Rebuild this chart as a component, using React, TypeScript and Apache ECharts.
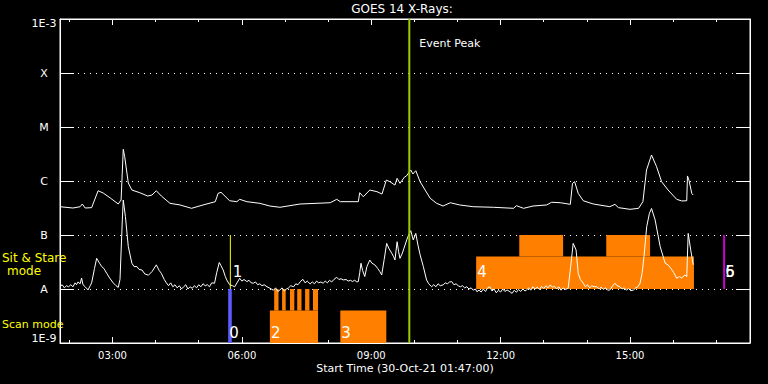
import React, { useEffect, useRef } from "react";
import * as echarts from "echarts";

// ---- time axis (minutes after 00:00 UT, 30-Oct-21) ----
const START_MIN = 107; // 01:47
const END_MIN = 1067; // 17:47
const hourTicks = [120, 240, 300, 420, 480, 600, 660, 780, 840, 960, 1020];
const labeledHours = [180, 360, 540, 720, 900];

// ---- flux axis (W/m^2) ----
const FLUX_MIN = 1e-9;
const FLUX_MAX = 1e-3;
const yTickLabels = ["1E-9", "A", "B", "C", "M", "X", "1E-3"];

// ---- GOES 14 long channel (1-8 A): [minute, flux] ----
const longChannel: [number, number][] = [
  [107, 3.34e-7], [125, 3.16e-7], [135, 3.34e-7], [138, 3.75e-7], [142, 3.16e-7], [151, 3.21e-7],
  [160, 6.6e-7], [167, 6.0e-7], [177, 4.84e-7], [188, 3.75e-7], [192, 4.45e-7], [195, 3.86e-6],
  [197, 2.82e-6], [202, 9.2e-7], [207, 6.8e-7], [218, 6.07e-7], [229, 5.27e-7], [235, 5.5e-7],
  [241, 6.6e-7], [248, 5.27e-7], [260, 3.86e-7], [274, 3.6e-7], [290, 3.12e-7], [306, 3.6e-7],
  [323, 4.14e-7], [327, 5.9e-7], [331, 6.18e-7], [343, 4.31e-7], [353, 4.14e-7], [357, 4.58e-7],
  [367, 4.14e-7], [385, 3.86e-7], [399, 3.44e-7], [413, 3.26e-7], [441, 3.75e-7], [483, 3.96e-7],
  [492, 4.58e-7], [497, 4.14e-7], [522, 4.14e-7], [524, 6.07e-7], [529, 5.12e-7], [538, 6.8e-7],
  [548, 6.34e-7], [555, 5.74e-7], [561, 1.04e-6], [566, 9.7e-7], [573, 8.4e-7], [576, 1.12e-6],
  [580, 9.05e-7], [586, 1.17e-6], [589, 1.24e-6], [595, 1.6e-6], [598, 1.35e-6], [602, 1.55e-6],
  [608, 9.7e-7], [615, 6.8e-7], [622, 4.79e-7], [631, 3.86e-7], [640, 3.44e-7], [650, 3.96e-7],
  [663, 3.6e-7], [682, 3.34e-7], [710, 3.26e-7], [738, 3.12e-7], [742, 3.49e-7], [752, 3.12e-7],
  [765, 3.44e-7], [784, 3.6e-7], [791, 4.04e-7], [803, 3.96e-7], [817, 3.7e-7], [820, 9.05e-7],
  [823, 9.7e-7], [828, 5.9e-7], [835, 4.31e-7], [849, 3.75e-7], [872, 3.34e-7], [879, 3.7e-7],
  [884, 3.21e-7], [900, 2.99e-7], [912, 3.12e-7], [918, 4.14e-7], [923, 1.6e-6], [930, 3.03e-6],
  [937, 1.84e-6], [944, 9.7e-7], [953, 6.8e-7], [965, 4.58e-7], [972, 4.27e-7], [979, 4.31e-7],
  [980, 1.24e-6], [982, 1.04e-6], [986, 5.9e-7], [988, 5.5e-7],
];

// ---- GOES 14 short channel (0.5-4 A): [minute, flux] ----
const shortChannel: [number, number][] = [
  [107, 1.1e-8], [110, 1.2e-8], [113, 1.05e-8], [116, 1.15e-8], [119, 1.1e-8], [122, 1.2e-8],
  [125, 1.1e-8], [128, 1.3e-8], [130, 1.2e-8], [132, 1.35e-8], [135, 1.25e-8], [137, 1.6e-8],
  [139, 1.2e-8], [142, 1.1e-8], [146, 0.96e-8], [149, 1.15e-8], [151, 1.3e-8], [155, 2.4e-8],
  [158, 3.7e-8], [162, 3.0e-8], [165, 2.6e-8], [168, 2.4e-8], [172, 1.95e-8], [176, 1.6e-8],
  [181, 1.3e-8], [185, 1.15e-8], [188, 1.07e-8], [190.5, 1.5e-8], [193.7, 1.9e-7], [195, 4.45e-7],
  [198, 2.2e-7], [202, 6.1e-8], [207, 3.0e-8], [210, 2.6e-8], [214, 2.6e-8], [217, 2.3e-8],
  [221, 2.25e-8], [225, 1.9e-8], [230, 1.8e-8], [235, 2.1e-8], [241, 2.8e-8], [245, 2.2e-8],
  [248, 1.95e-8], [252, 1.5e-8], [255, 1.3e-8], [258, 1.15e-8], [261, 1.3e-8], [264, 1.1e-8],
  [267, 1.2e-8], [270, 1.05e-8], [273, 1.15e-8], [276, 1.0e-8], [279, 1.1e-8], [282, 1.2e-8],
  [285, 1.0e-8], [288, 1.1e-8], [291, 1.03e-8], [294, 1.15e-8], [297, 1.05e-8], [300, 1.2e-8],
  [303, 1.1e-8], [306, 1.25e-8], [309, 1.15e-8], [312, 1.2e-8], [315, 1.1e-8], [318, 1.3e-8],
  [322, 1.28e-8], [325, 2.0e-8], [328.6, 3.1e-8], [331, 2.7e-8], [334, 2.25e-8], [337, 1.7e-8],
  [339, 1.47e-8], [343, 1.2e-8], [347, 1.15e-8], [350, 1.1e-8], [354, 1.35e-8], [357, 1.58e-8],
  [360, 1.4e-8], [363, 1.5e-8], [367, 1.37e-8], [370, 1.45e-8], [373, 1.3e-8], [376, 1.28e-8],
  [379, 1.35e-8], [382, 1.2e-8], [385, 1.25e-8], [388, 1.15e-8], [391, 1.2e-8], [395, 1.1e-8],
  [398, 1.05e-8], [401, 1.0e-8], [404, 0.95e-8], [407, 1.05e-8], [410, 0.9e-8], [413, 0.96e-8],
  [416, 1.05e-8], [419, 0.92e-8], [422, 1.0e-8], [425, 1.05e-8], [428, 1.15e-8], [432, 1.1e-8],
  [435, 1.25e-8], [438, 1.2e-8], [442, 1.4e-8], [445, 1.51e-8], [448, 1.3e-8], [451, 1.4e-8],
  [455, 1.24e-8], [458, 1.35e-8], [461, 1.25e-8], [464, 1.4e-8], [467, 1.3e-8], [470, 1.35e-8],
  [473, 1.28e-8], [476, 1.4e-8], [479, 1.3e-8], [482, 1.45e-8], [485, 1.35e-8], [488, 1.5e-8],
  [492, 1.65e-8], [495, 1.5e-8], [498, 1.55e-8], [501, 1.47e-8], [505, 1.5e-8], [508, 1.4e-8],
  [511, 1.45e-8], [514, 1.38e-8], [517, 1.45e-8], [520, 1.35e-8], [522, 1.37e-8], [524, 2.0e-8],
  [525.8, 3.0e-8], [528, 2.2e-8], [531, 1.7e-8], [534, 2.6e-8], [538, 3.44e-8], [541, 3.0e-8],
  [545, 2.8e-8], [549, 2.4e-8], [552, 2.1e-8], [554.6, 1.82e-8], [558, 3.5e-8], [561.5, 7.0e-8],
  [565, 5.5e-8], [568.5, 4.6e-8], [571, 4.0e-8], [573, 3.44e-8], [576, 7.5e-8], [578, 5.0e-8],
  [580, 3.7e-8], [583, 4.5e-8], [585.6, 5.7e-8], [589.4, 8.1e-8], [592, 1.0e-7], [595, 1.2e-7],
  [598.5, 8.1e-8], [602, 1.07e-7], [605, 6.5e-8], [608, 4.3e-8], [612.5, 2.6e-8], [617, 1.47e-8],
  [620, 1.25e-8], [624, 1.1e-8], [627, 1.2e-8], [630, 1.1e-8], [633, 1.25e-8], [636, 1.15e-8],
  [640, 1.19e-8], [643, 1.3e-8], [646, 1.25e-8], [649, 1.35e-8], [652, 1.37e-8], [655, 1.2e-8],
  [658, 1.25e-8], [661, 1.15e-8], [664, 1.1e-8], [667, 1.15e-8], [670, 1.05e-8], [673, 1.1e-8],
  [676, 1.0e-8], [679, 1.05e-8], [682, 0.95e-8], [685, 1.0e-8], [687, 0.89e-8], [690, 0.95e-8],
  [693, 0.88e-8], [696, 1.0e-8], [699, 0.9e-8], [702, 1.05e-8], [705, 1.1e-8], [708, 0.92e-8],
  [711, 1.0e-8], [714, 0.85e-8], [717, 0.95e-8], [720, 0.88e-8], [723, 1.0e-8], [726, 0.9e-8],
  [729, 0.96e-8], [733, 0.89e-8], [736, 0.83e-8], [739, 0.95e-8], [742, 0.87e-8], [745, 0.98e-8],
  [748, 0.9e-8], [751, 1.0e-8], [754, 0.92e-8], [756, 0.96e-8], [759, 1.05e-8], [762, 0.95e-8],
  [765, 1.1e-8], [768, 1.0e-8], [771, 1.08e-8], [774, 0.98e-8], [777, 1.12e-8], [780, 1.02e-8],
  [783, 1.15e-8], [786, 1.05e-8], [789, 1.19e-8], [792, 1.08e-8], [795, 1.12e-8], [798, 1.0e-8],
  [801, 1.1e-8], [804, 0.95e-8], [807, 1.05e-8], [810, 0.98e-8], [814, 1.03e-8], [817.5, 2.6e-8],
  [821, 7.0e-8], [825, 5.3e-8], [828, 1.95e-8], [831, 1.5e-8], [835, 1.28e-8], [838, 1.1e-8],
  [841, 1.2e-8], [844, 1.05e-8], [847, 1.15e-8], [850, 1.1e-8], [854, 1.1e-8], [857, 1.0e-8],
  [860, 1.08e-8], [863, 0.98e-8], [866, 1.05e-8], [869, 0.95e-8], [872, 0.96e-8], [876, 1.15e-8],
  [879, 1.28e-8], [882, 1.15e-8], [886, 1.1e-8], [889, 1.0e-8], [892, 1.05e-8], [895, 0.95e-8],
  [898, 1.02e-8], [901, 0.93e-8], [905, 0.96e-8], [908, 1.05e-8], [911, 1.1e-8], [914, 1.28e-8],
  [917, 2.0e-8], [919.5, 4.0e-8], [923.3, 1.43e-7], [927, 2.5e-7], [930, 3.1e-7], [935, 1.9e-7],
  [942, 6.1e-8], [949, 3.0e-8], [953, 2.8e-8], [957, 2.4e-8], [961, 2.0e-8], [965, 1.58e-8],
  [969, 1.7e-8], [972, 1.6e-8], [976.5, 1.82e-8], [979, 1.69e-8], [981, 1.07e-7], [984.5, 5.3e-8],
  [988, 2.8e-8],
];

// ---- observing modes (minutes) ----
const scanBlockStart = [399, 497];
const scanBlockEnd = [466, 561];
const scanBurstStart = [405, 416, 427, 437, 448, 459];
const scanBurstEnd = [411, 421, 433, 443, 454, 466];
const sitBlockStart = [686];
const sitBlockEnd = [989];
const sitPeakStart = [746, 867];
const sitPeakEnd = [807, 928];
const mode0Start = 341;
const mode0End = 346;
const mode1Time = 344;
const mode56Time = 1031;
const eventPeakTime = 593;

const modeNames = ["0", "1", "2", "3", "4", "5", "6"];
const modeLabelTime = [341, 346, 399, 497, 686, 1031, 1031];
const modeRow = ["scan", "sit", "scan", "scan", "sit", "sit", "sit"];

const FONT = "DejaVu Sans";

const fmtTime = (m: number) => {
  const h = Math.floor(m / 60);
  const mm = Math.round(m - h * 60);
  return String(h).padStart(2, "0") + ":" + String(mm).padStart(2, "0");
};

export default function App() {
  const ref = useRef<HTMLDivElement>(null);

  useEffect(() => {
    if (!ref.current) return;
    const chart = echarts.init(ref.current, undefined, { renderer: "svg" });

    // mode rows on a hidden level axis: scan row 0..1, sit & stare row 1..2
    const orangeRects: number[][] = [];
    scanBlockStart.forEach((s, i) => orangeRects.push([s, scanBlockEnd[i], 0, 0.6]));
    scanBurstStart.forEach((s, i) => orangeRects.push([s, scanBurstEnd[i], 0.6, 1]));
    sitBlockStart.forEach((s, i) => orangeRects.push([s, sitBlockEnd[i], 1, 1.6]));
    sitPeakStart.forEach((s, i) => orangeRects.push([s, sitPeakEnd[i], 1.6, 2]));
    const blueRects = [[mode0Start, mode0End, 0, 1]];

    const rectRender = (color: string) => (params: any, api: any) => {
      const p0 = api.coord([api.value(0), api.value(3)]);
      const p1 = api.coord([api.value(1), api.value(2)]);
      return {
        type: "rect",
        shape: { x: p0[0], y: p0[1], width: p1[0] - p0[0], height: p1[1] - p0[1] },
        style: { fill: color },
      };
    };
    const vlineRender = (color: string, width: number) => (params: any, api: any) => {
      const a = api.coord([api.value(0), api.value(1)]);
      const b = api.coord([api.value(0), api.value(2)]);
      return {
        type: "line",
        shape: { x1: a[0], y1: a[1], x2: b[0], y2: b[1] },
        style: { stroke: color, lineWidth: width },
      };
    };

    const labelData = modeNames.map((n, i) => [modeLabelTime[i], modeRow[i] === "scan" ? 0.19 : 1.31, i]);

    const common = { min: START_MIN, max: END_MIN, type: "value" as const };
    const option: any = {
      animation: false,
      backgroundColor: "#000",
      textStyle: { fontFamily: FONT },
      grid: { left: 60, right: 18, top: 19, bottom: 41, show: true, borderColor: "#fff", borderWidth: 1 },
      xAxis: [
        {
          ...common,
          position: "bottom",
          axisLine: { show: true, lineStyle: { color: "#fff", width: 1 } },
          axisTick: { show: true, inside: true, length: 6, customValues: labeledHours, lineStyle: { color: "#fff" } },
          axisLabel: { show: true, customValues: labeledHours, formatter: (v: number) => fmtTime(v), color: "#fff", fontSize: 10, fontFamily: FONT, margin: 7 },
          splitLine: { show: false },
        },
        {
          ...common,
          position: "bottom",
          axisLine: { show: false },
          axisTick: { show: true, inside: true, length: 3, customValues: hourTicks, lineStyle: { color: "#fff" } },
          axisLabel: { show: false },
          splitLine: { show: false },
        },
        {
          ...common,
          position: "top",
          axisLine: { show: true, lineStyle: { color: "#fff", width: 1 } },
          axisTick: { show: true, inside: true, length: 6, customValues: labeledHours, lineStyle: { color: "#fff" } },
          axisLabel: { show: false },
          splitLine: { show: false },
        },
        {
          ...common,
          position: "top",
          axisLine: { show: false },
          axisTick: { show: true, inside: true, length: 3, customValues: hourTicks, lineStyle: { color: "#fff" } },
          axisLabel: { show: false },
          splitLine: { show: false },
        },
      ],
      yAxis: [
        {
          type: "log",
          logBase: 10,
          min: FLUX_MIN,
          max: FLUX_MAX,
          position: "left",
          axisLine: { show: true, lineStyle: { color: "#fff", width: 1 } },
          axisTick: { show: true, inside: true, length: 14, lineStyle: { color: "#fff" } },
          minorTick: { show: false },
          axisLabel: {
            color: "#fff",
            fontSize: 11,
            fontFamily: FONT,
            align: "center",
            margin: 16,
            formatter: (v: number) => {
              const e = Math.round(Math.log10(v)) + 9;
              const t = yTickLabels[e] ?? "";
              if (e === yTickLabels.length - 1) return "{top|" + t + "}";
              if (e === 0) return "{bot|" + t + "}";
              return t;
            },
            rich: {
              top: { color: "#fff", fontSize: 11, fontFamily: FONT, lineHeight: 20, verticalAlign: "bottom" },
              bot: { color: "#fff", fontSize: 11, fontFamily: FONT, lineHeight: 20, verticalAlign: "top" },
            },
          },
          splitLine: { show: true, lineStyle: { color: "#fff", type: [1, 5], width: 1 } },
        },
        {
          type: "log",
          logBase: 10,
          min: FLUX_MIN,
          max: FLUX_MAX,
          position: "right",
          axisLine: { show: true, lineStyle: { color: "#fff", width: 1 } },
          axisTick: { show: true, inside: true, length: 14, lineStyle: { color: "#fff" } },
          axisLabel: { show: false },
          splitLine: { show: false },
        },
        { type: "value", min: 0, max: 6, show: false },
      ],
      series: [
        {
          type: "custom",
          name: "sit/scan blocks",
          xAxisIndex: 0,
          yAxisIndex: 2,
          z: 1,
          clip: true,
          renderItem: rectRender("#ff8000"),
          encode: { x: [0, 1], y: [2, 3] },
          data: orangeRects,
        },
        {
          type: "custom",
          name: "mode 0",
          xAxisIndex: 0,
          yAxisIndex: 2,
          z: 1,
          renderItem: rectRender("#5c5cff"),
          encode: { x: [0, 1], y: [2, 3] },
          data: blueRects,
        },
        {
          type: "line",
          name: "long",
          xAxisIndex: 0,
          yAxisIndex: 0,
          z: 3,
          showSymbol: false,
          symbol: "none",
          clip: true,
          lineStyle: { color: "#fff", width: 1 },
          data: longChannel,
        },
        {
          type: "line",
          name: "short",
          xAxisIndex: 0,
          yAxisIndex: 0,
          z: 3,
          showSymbol: false,
          symbol: "none",
          clip: true,
          lineStyle: { color: "#fff", width: 1 },
          data: shortChannel,
        },
        {
          type: "custom",
          name: "mode 1",
          xAxisIndex: 0,
          yAxisIndex: 2,
          z: 4,
          renderItem: vlineRender("#ffff00", 1),
          encode: { x: 0, y: [1, 2] },
          data: [[mode1Time, 1, 2]],
        },
        {
          type: "custom",
          name: "mode 5/6",
          xAxisIndex: 0,
          yAxisIndex: 2,
          z: 4,
          renderItem: vlineRender("#cc00cc", 2),
          encode: { x: 0, y: [1, 2] },
          data: [[mode56Time, 1, 2]],
        },
        {
          type: "custom",
          name: "mode labels",
          xAxisIndex: 0,
          yAxisIndex: 2,
          z: 5,
          renderItem: (params: any, api: any) => {
            const p = api.coord([api.value(0), api.value(1)]);
            return {
              type: "text",
              x: p[0] + 1,
              y: p[1],
              style: {
                text: modeNames[api.value(2)],
                fill: "#fff",
                font: `15px "${FONT}"`,
                align: "left",
                verticalAlign: "middle",
              },
            };
          },
          encode: { x: 0, y: 1 },
          data: labelData,
        },
        {
          type: "custom",
          name: "event peak",
          xAxisIndex: 0,
          yAxisIndex: 2,
          z: 6,
          renderItem: (params: any, api: any) => {
            const a = api.coord([api.value(0), 0]);
            const b = api.coord([api.value(0), 6]);
            return {
              type: "group",
              children: [
                { type: "line", shape: { x1: a[0], y1: a[1], x2: b[0], y2: b[1] }, style: { stroke: "#9acd00", lineWidth: 2 } },
                {
                  type: "text",
                  x: a[0] + 10,
                  y: b[1] + 24,
                  style: { text: "Event Peak", fill: "#fff", font: `11px "${FONT}"`, align: "left", verticalAlign: "middle" },
                },
              ],
            };
          },
          encode: { x: 0 },
          data: [[eventPeakTime]],
        },
      ],
      graphic: [
        { type: "text", x: 402, y: 9, style: { text: "GOES 14 X-Rays:", fill: "#fff", font: `12px "${FONT}"`, align: "center", verticalAlign: "middle" } },
        { type: "text", x: 405, y: 368, style: { text: "Start Time (30-Oct-21 01:47:00)", fill: "#fff", font: `11px "${FONT}"`, align: "center", verticalAlign: "middle" } },
        { type: "text", x: 2, y: 258, style: { text: "Sit & Stare", fill: "#ffff00", font: `12px "${FONT}"`, align: "left", verticalAlign: "middle" } },
        { type: "text", x: 24, y: 271, style: { text: "mode", fill: "#ffff00", font: `12px "${FONT}"`, align: "center", verticalAlign: "middle" } },
        { type: "text", x: 2, y: 324, style: { text: "Scan mode", fill: "#ffff00", font: `11px "${FONT}"`, align: "left", verticalAlign: "middle" } },
      ],
    };

    chart.setOption(option);
    return () => chart.dispose();
  }, []);

  return <div ref={ref} style={{ position: "fixed", left: 0, top: 0, width: 768, height: 384 }} />;
}
